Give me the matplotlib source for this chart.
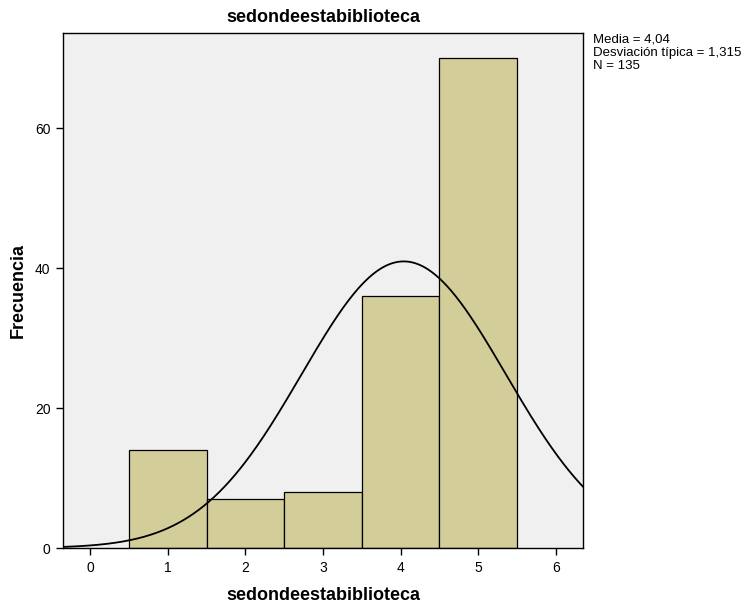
import numpy as np
import matplotlib.pyplot as plt

plt.rcParams['font.family'] = ['Liberation Sans', 'DejaVu Sans']

# histogram data
valores = [1, 2, 3, 4, 5]
frecuencias = [14, 7, 8, 36, 70]
media = 4.04
desv = 1.315
n = 135

fig = plt.figure(figsize=(7.47, 6.05), dpi=100)
ax = fig.add_axes([0.0843, 0.0942, 0.6962, 0.8513])
ax.set_facecolor('#F0F0F0')

ax.bar(valores, frecuencias, width=1.0, color='#D3CE99', edgecolor='black', linewidth=0.9, zorder=2)

xs = np.linspace(-0.35, 6.35, 400)
ys = n * 1.0 * np.exp(-0.5 * ((xs - media) / desv) ** 2) / (desv * np.sqrt(2 * np.pi))
ax.plot(xs, ys, color='black', linewidth=1.3, zorder=3)

ax.set_xlim(-0.35, 6.35)
ax.set_ylim(0, 73.6)
ax.set_xticks(range(0, 7))
ax.set_yticks([0, 20, 40, 60])
ax.tick_params(direction='out', length=5, width=1, labelsize=10, pad=4)
for s in ax.spines.values():
    s.set_linewidth(1)

ax.set_title('sedondeestabiblioteca', fontsize=13, fontweight='bold', pad=8)
ax.set_xlabel('sedondeestabiblioteca', fontsize=13, fontweight='bold')
ax.xaxis.set_label_coords(0.5, -0.093)
ax.xaxis.label.set_verticalalignment('center')
ax.set_ylabel('Frecuencia', fontsize=13, fontweight='bold')
ax.yaxis.set_label_coords(-0.0865, 0.5)
ax.yaxis.label.set_verticalalignment('center')

fig.text(0.794, 0.944, 'Media = 4,04\nDesviación típica = 1,315\nN = 135',
         fontsize=9.5, va='top', ha='left', linespacing=1.12)

plt.savefig('out.png', dpi=100)
